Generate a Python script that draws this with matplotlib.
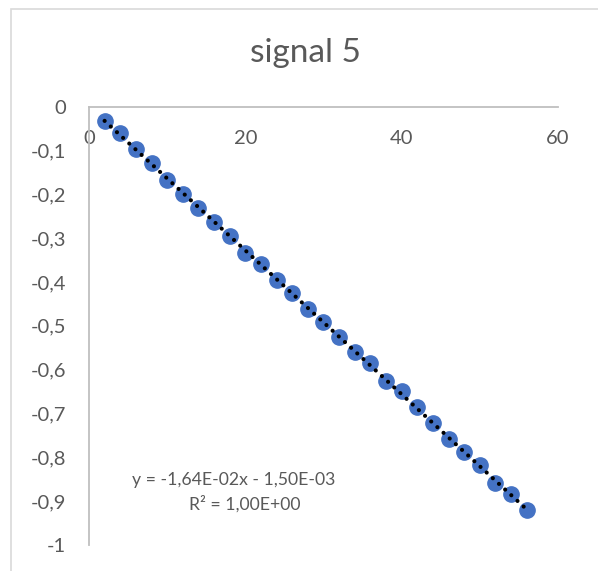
import matplotlib.pyplot as plt
import numpy as np
from matplotlib.patches import Rectangle

plt.rcParams['font.family'] = ['Lato', 'DejaVu Sans']

# Data
x_vals = [2, 4, 6, 8, 10, 12, 14, 16, 18, 20, 22, 24, 26, 28,
          30, 32, 34, 36, 38, 40, 42, 44, 46, 48, 50, 52, 54, 56]
y_vals = [-0.033, -0.059, -0.096, -0.129, -0.167, -0.199, -0.232, -0.263,
          -0.296, -0.333, -0.358, -0.395, -0.425, -0.463, -0.492, -0.525,
          -0.561, -0.586, -0.626, -0.650, -0.686, -0.723, -0.758, -0.789,
          -0.817, -0.860, -0.884, -0.920]
x_ticks = [0, 20, 40, 60]
y_ticks = [0, -0.1, -0.2, -0.3, -0.4, -0.5, -0.6, -0.7, -0.8, -0.9, -1]
y_tick_labels = ['0', '-0,1', '-0,2', '-0,3', '-0,4', '-0,5',
                 '-0,6', '-0,7', '-0,8', '-0,9', '-1']
title = 'signal 5'
eq_line = 'y = -1,64E-02x - 1,50E-03'
r2_line = 'R² = 1,00E+00'

text_color = '#595959'
axis_color = '#bfbfbf'

fig = plt.figure(figsize=(5.98, 5.71), dpi=100)

# chart area border (Excel style, cropped on right/bottom)
fig.patches.append(Rectangle((0.0192, -0.1), 1.2, 1.085, transform=fig.transFigure,
                             fill=False, edgecolor='#d9d9d9', linewidth=1.2))

ax = fig.add_axes([0.1488, 0.0461, 0.7843, 0.767])

ax.plot(x_vals, y_vals, linestyle='none', marker='o', markersize=11,
        color='#4472C4', markeredgecolor='#4472C4', zorder=3)

# linear trendline
slope, intercept = np.polyfit(x_vals, y_vals, 1)
xt = np.array([x_vals[0], x_vals[-1]])
ax.plot(xt, slope * xt + intercept, color='black', linewidth=3.0,
        linestyle=(0, (0.01, 2.0)), dash_capstyle='round', zorder=4)

ax.set_xlim(0, 60)
ax.set_ylim(-1, 0)
ax.set_xticks(x_ticks)
ax.set_yticks(y_ticks)
ax.set_yticklabels(y_tick_labels)

for s in ['top', 'right']:
    ax.spines[s].set_visible(False)
ax.spines['bottom'].set_position(('data', 0))
for s in ['left', 'bottom']:
    ax.spines[s].set_color(axis_color)
    ax.spines[s].set_linewidth(1.3)

ax.tick_params(axis='both', length=0, pad=16.5, labelsize=14.5, labelcolor=text_color)

fig.text(0.51, 1 - 62.3 / 571, title, ha='center', va='baseline',
         fontsize=24, color=text_color)

ax.text(0.309, 0.136, eq_line, transform=ax.transAxes, ha='center',
        va='baseline', fontsize=12.7, color=text_color)
ax.text(0.332, 0.081, r2_line, transform=ax.transAxes, ha='center',
        va='baseline', fontsize=12.7, color=text_color)

fig.savefig('out.png', dpi=100)
